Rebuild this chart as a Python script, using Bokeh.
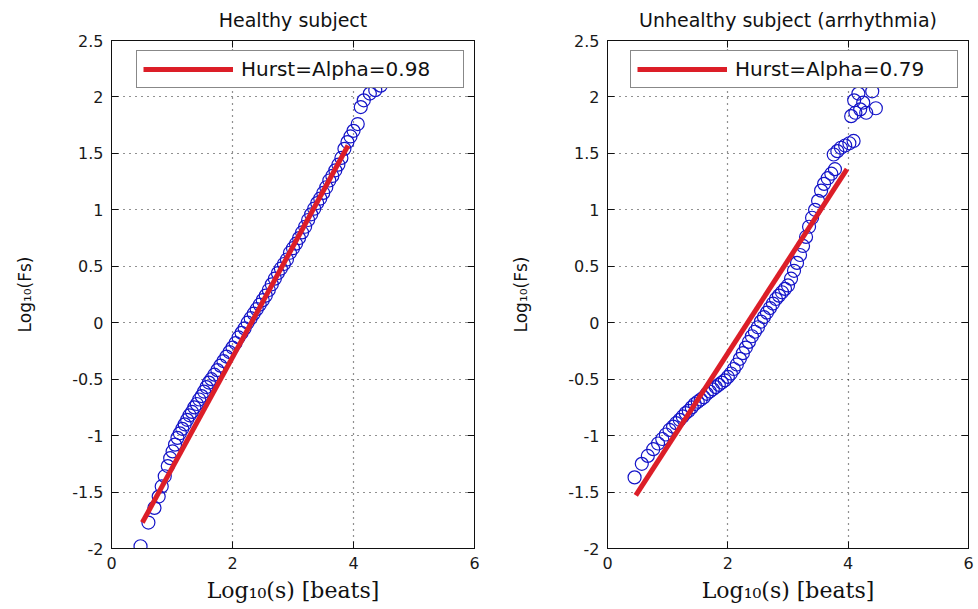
from bokeh.plotting import figure
from bokeh.models import Range1d, FixedTicker, LinearAxis, Legend, LegendItem
from bokeh.layouts import row
from bokeh.embed import file_html
from bokeh.resources import INLINE

# ---------------- data ----------------
titles = ["Healthy subject", "Unhealthy subject (arrhythmia)"]
legend_labels = ["Hurst=Alpha=0.98", "Hurst=Alpha=0.79"]
x_label = "Log\u2081\u2080(s) [beats]"
y_label = "Log\u2081\u2080(Fs)"

x_ticks = [0, 2, 4, 6]
x_tick_labels = ["0", "2", "4", "6"]
y_ticks = [-2, -1.5, -1, -0.5, 0, 0.5, 1, 1.5, 2, 2.5]
y_tick_labels = ["-2", "-1.5", "-1", "-0.5", "0", "0.5", "1", "1.5", "2", "2.5"]

healthy_x = [0.48, 0.61, 0.71, 0.78, 0.83, 0.88, 0.93, 0.97, 1.01, 1.05,
             1.09, 1.13, 1.17, 1.21, 1.25, 1.29, 1.33, 1.37, 1.41, 1.45,
             1.49, 1.53, 1.57, 1.61, 1.65, 1.70, 1.75, 1.80, 1.85, 1.90,
             1.95, 2.00, 2.05, 2.10, 2.15, 2.20, 2.25, 2.30, 2.35, 2.40,
             2.45, 2.50, 2.55, 2.60, 2.65, 2.70, 2.75, 2.80, 2.85, 2.90,
             2.95, 3.00, 3.05, 3.10, 3.15, 3.20, 3.25, 3.30, 3.35, 3.40,
             3.45, 3.50, 3.55, 3.60, 3.65, 3.70, 3.75, 3.80, 3.85, 3.90,
             3.95, 4.00, 4.07, 4.12, 4.17, 4.27, 4.36, 4.45]
healthy_y = [-1.98, -1.77, -1.64, -1.54, -1.45, -1.36, -1.27, -1.20, -1.14, -1.08,
             -1.02, -0.98, -0.94, -0.90, -0.86, -0.82, -0.79, -0.75, -0.72, -0.68,
             -0.65, -0.61, -0.57, -0.53, -0.50, -0.46, -0.42, -0.38, -0.34, -0.30,
             -0.26, -0.22, -0.18, -0.13, -0.09, -0.05, 0.00, 0.04, 0.08, 0.12,
             0.16, 0.20, 0.24, 0.29, 0.34, 0.39, 0.44, 0.48, 0.52, 0.56,
             0.62, 0.66, 0.70, 0.75, 0.80, 0.85, 0.91, 0.96, 1.01, 1.06,
             1.10, 1.15, 1.20, 1.26, 1.30, 1.35, 1.40, 1.46, 1.54, 1.60,
             1.65, 1.70, 1.76, 1.91, 1.97, 2.03, 2.06, 2.10]
healthy_fit_x = [0.51, 3.91]
healthy_fit_y = [-1.77, 1.57]

unhealthy_x = [0.45, 0.57, 0.67, 0.76, 0.84, 0.91, 0.97, 1.03, 1.09, 1.14,
               1.20, 1.25, 1.30, 1.35, 1.40, 1.45, 1.50, 1.55, 1.60, 1.65,
               1.70, 1.75, 1.80, 1.85, 1.90, 1.95, 2.00, 2.05, 2.10, 2.15,
               2.20, 2.25, 2.30, 2.35, 2.40, 2.45, 2.50, 2.55, 2.60, 2.65,
               2.70, 2.75, 2.80, 2.85, 2.90, 2.95, 3.00, 3.05, 3.10, 3.15,
               3.20, 3.25, 3.30, 3.35, 3.40, 3.45, 3.50, 3.55, 3.60, 3.66,
               3.72, 3.78, 3.76, 3.82, 3.88, 3.95, 4.02, 4.09, 4.05, 4.12,
               4.20, 4.30, 4.25, 4.10, 4.17, 4.40, 4.46]
unhealthy_y = [-1.37, -1.25, -1.18, -1.12, -1.07, -1.03, -0.99, -0.95, -0.92, -0.89,
               -0.86, -0.83, -0.80, -0.78, -0.75, -0.72, -0.70, -0.68, -0.66, -0.63,
               -0.61, -0.59, -0.57, -0.55, -0.53, -0.51, -0.48, -0.45, -0.41, -0.37,
               -0.32, -0.27, -0.22, -0.17, -0.12, -0.08, -0.04, 0.01, 0.05, 0.09,
               0.13, 0.17, 0.21, 0.24, 0.27, 0.30, 0.33, 0.39, 0.46, 0.53,
               0.60, 0.68, 0.76, 0.85, 0.93, 1.00, 1.08, 1.17, 1.23, 1.28,
               1.32, 1.36, 1.49, 1.52, 1.55, 1.57, 1.59, 1.61, 1.83, 1.86,
               1.89, 1.86, 1.95, 1.97, 2.03, 2.05, 1.90]
unhealthy_fit_x = [0.47, 3.98]
unhealthy_fit_y = [-1.53, 1.36]

# ---------------- styling ----------------
SANS = "DejaVu Sans"
SERIF = "DejaVu Serif"
BLUE = "#1414c8"
RED = "#dc1e28"
INK = "#111111"
FIG_H = 606
TOP, BOTTOM = 40, 58


def make_panel(title, xs, ys, fx, fy, leg_label, width, left, right):
    p = figure(width=width, height=FIG_H, output_backend="svg", toolbar_location=None,
               x_range=Range1d(0, 6), y_range=Range1d(-2, 2.5),
               min_border_left=left, min_border_right=right,
               min_border_top=TOP, min_border_bottom=BOTTOM,
               x_axis_location=None, y_axis_location=None)
    p.background_fill_color = "white"
    p.border_fill_color = "white"
    p.outline_line_color = INK
    p.outline_line_width = 1

    p.title.text = title
    p.title.align = "center"
    p.title.vertical_align = "top"
    p.title.text_font = SANS
    p.title.text_font_size = "19px"
    p.title.text_font_style = "normal"
    p.title.text_color = INK
    p.title.standoff = 15

    xt = FixedTicker(ticks=x_ticks)
    yt = FixedTicker(ticks=y_ticks)

    def style_axis(ax):
        ax.axis_line_color = INK
        ax.major_tick_line_color = INK
        ax.major_tick_in = 7
        ax.major_tick_out = 0
        ax.minor_tick_line_color = None
        ax.major_label_text_font = SANS
        ax.major_label_text_font_size = "16px"
        ax.major_label_text_color = "#1a1a1a"
        ax.major_label_standoff = 8

    bx = LinearAxis(ticker=xt, major_label_overrides=dict(zip(x_ticks, x_tick_labels)),
                    axis_label=x_label)
    ly = LinearAxis(ticker=yt, major_label_overrides=dict(zip(y_ticks, y_tick_labels)),
                    axis_label=y_label)
    tx = LinearAxis(ticker=xt, major_label_overrides={t: "" for t in x_ticks})
    ry = LinearAxis(ticker=yt, major_label_overrides={t: "" for t in y_ticks})
    for ax in (bx, ly, tx, ry):
        style_axis(ax)
    tx.major_label_standoff = 0
    ry.major_label_standoff = 0

    bx.axis_label_text_font = SERIF
    bx.axis_label_text_font_size = "22px"
    bx.axis_label_text_font_style = "normal"
    bx.axis_label_text_color = INK
    bx.axis_label_standoff = 6

    ly.axis_label_text_font = SANS
    ly.axis_label_text_font_size = "17px"
    ly.axis_label_text_font_style = "normal"
    ly.axis_label_text_color = INK
    ly.axis_label_standoff = 34

    p.add_layout(bx, "below")
    p.add_layout(tx, "above")
    p.add_layout(ly, "left")
    p.add_layout(ry, "right")

    p.xgrid.ticker = xt
    p.ygrid.ticker = yt
    for g in (p.xgrid, p.ygrid):
        g.grid_line_color = "#222222"
        g.grid_line_dash = "1 5"
        g.grid_line_width = 1.2

    p.scatter(xs, ys, marker="circle", size=13, fill_color=None,
              line_color=BLUE, line_width=1.2)
    fit = p.line(fx, fy, line_color=RED, line_width=5)

    legend = Legend(items=[LegendItem(label=leg_label, renderers=[fit])],
                    location="top_right")
    legend.border_line_color = INK
    legend.border_line_width = 1
    legend.background_fill_color = "white"
    legend.background_fill_alpha = 1
    legend.label_text_font = SANS
    legend.label_text_font_size = "20px"
    legend.label_text_color = INK
    legend.glyph_width = 90
    legend.glyph_height = 22
    legend.label_height = 22
    legend.label_width = 216
    legend.label_standoff = 8
    legend.padding = 6
    legend.margin = 10
    legend.spacing = 0
    p.add_layout(legend)
    return p


p1 = make_panel(titles[0], healthy_x, healthy_y, healthy_fit_x, healthy_fit_y,
                legend_labels[0], 489, 111, 15)
p2 = make_panel(titles[1], unhealthy_x, unhealthy_y, unhealthy_fit_x, unhealthy_fit_y,
                legend_labels[1], 487, 118, 8)

layout = row(p1, p2)
with open("out.html", "w") as f:
    f.write(file_html(layout, INLINE))
